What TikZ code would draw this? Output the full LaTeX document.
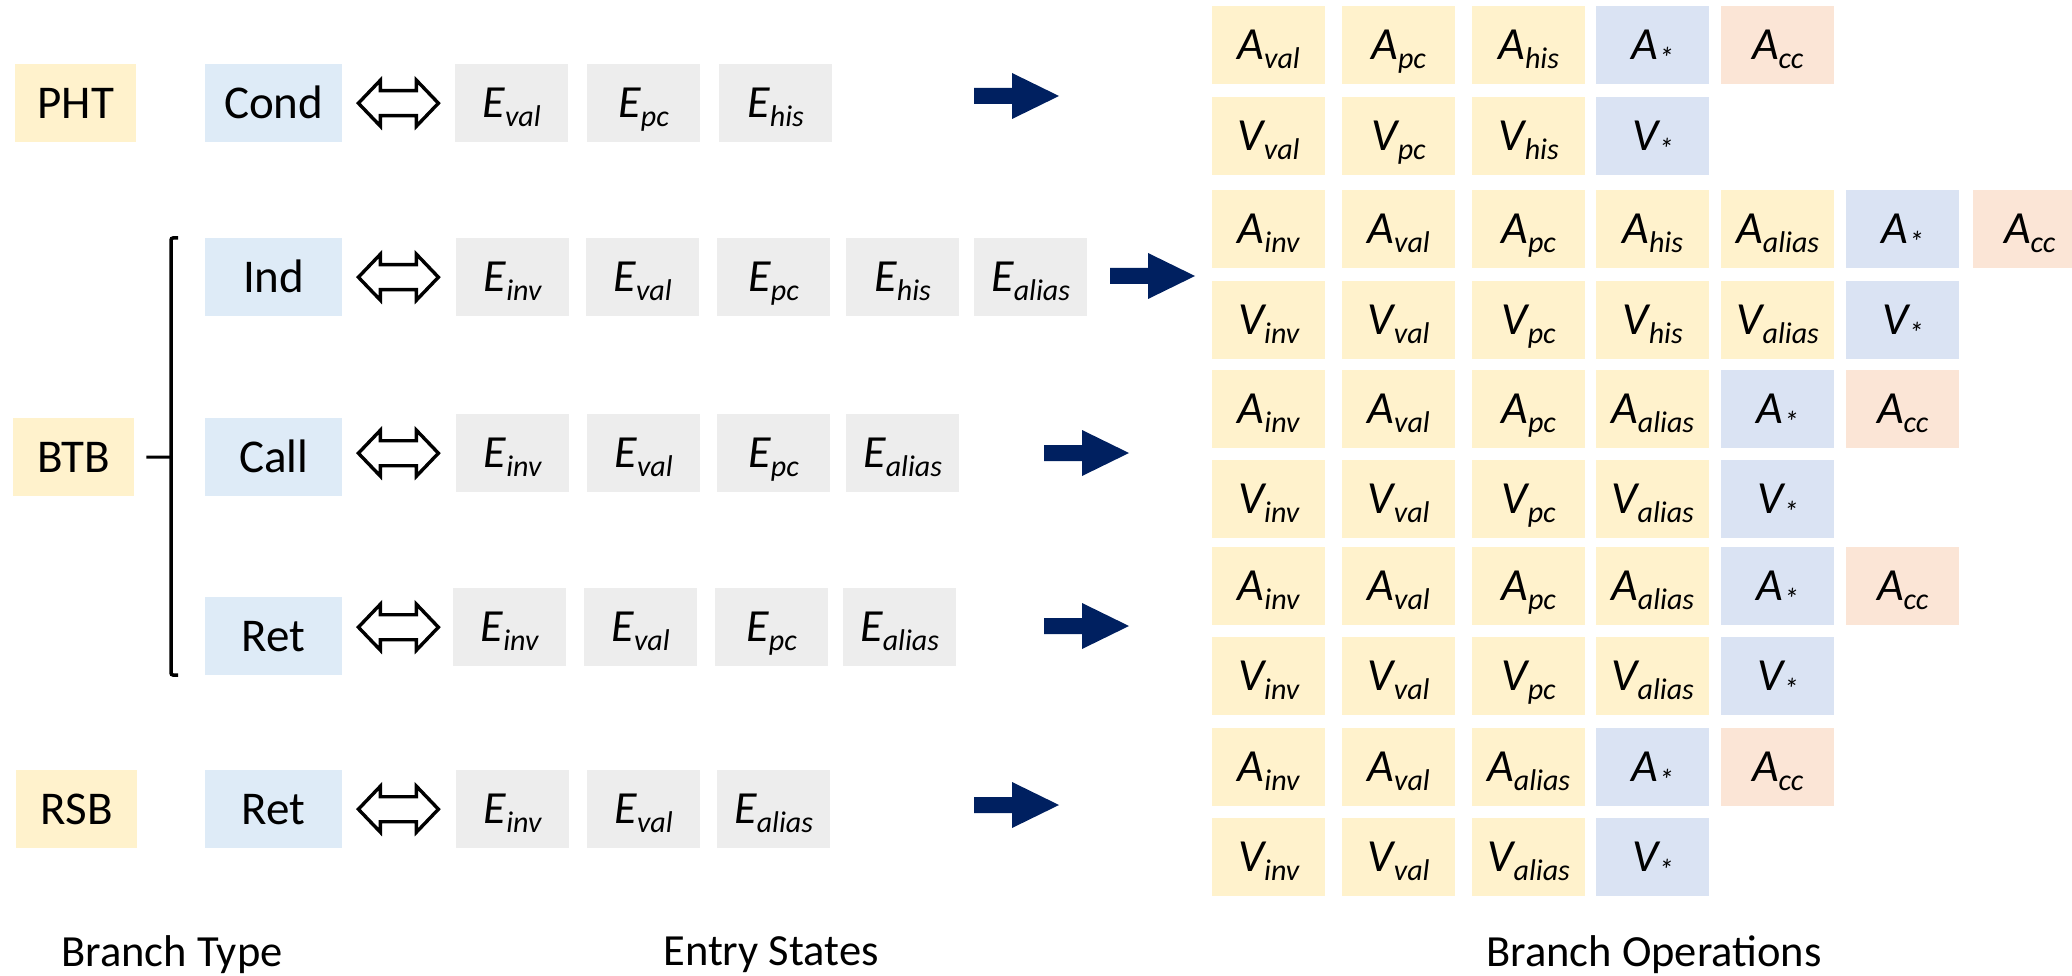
\documentclass[tikz,border=0pt]{standalone}
\usepackage{fontspec}
\setmainfont{Carlito}
\usetikzlibrary{calc}

\definecolor{cyel}{HTML}{FFF2CC}
\definecolor{cblueL}{HTML}{DEEBF7}
\definecolor{cblueG}{HTML}{DAE3F3}
\definecolor{cpink}{HTML}{FBE5D6}
\definecolor{cgrey}{HTML}{EDEDED}
\definecolor{cnavy}{HTML}{002060}

% italic symbol with a lowered italic index
\newcommand\sv[2]{{\fontsize{46}{50}\selectfont\itshape #1}\raisebox{-9pt}{\fontsize{30}{34}\selectfont\itshape #2}}

\tikzset{
  cell/.style={inner sep=0pt, anchor=north west, minimum height=78pt},
  unitbox/.style={cell, fill=cyel, minimum width=121pt, text height=30pt, text depth=0pt,
                  font=\fontsize{47}{52}\selectfont},
  typebox/.style={cell, fill=cblueL, minimum width=137pt, text height=30pt, text depth=0pt,
                  font=\fontsize{47}{52}\selectfont},
  ebox/.style={cell, fill=cgrey, minimum width=113pt, text height=29pt, text depth=0pt},
  opbox/.style={cell, minimum width=113pt, text height=29pt, text depth=0pt},
  dbl/.style={draw=black, fill=white, line width=3.4pt, line join=miter},
  bracket/.style={draw=black, line width=3.5pt},
  caption/.style={font=\fontsize{44.5}{50}\selectfont, inner sep=0pt},
}

% hollow two-headed arrow from the type box to the first entry box
\newcommand\linkarrow[2]{%
  \draw[dbl] ($(#1.east |- #2.west)+(16,0)$) -- ++(22,-23) -- ++(0,10.5) -- ++(36,0)
    -- ++(0,-10.5) -- ++(22,23) -- ++(-22,23) -- ++(0,-10.5) -- ++(-36,0)
    -- ++(0,10.5) -- cycle;}

% solid block arrow starting at a named coordinate
\newcommand\blockarrow[1]{%
  \fill[cnavy] (#1) ++(0,-8) -- ++(38,0) -- ++(0,-15) -- ++(47,23)
    -- ++(-47,23) -- ++(0,-15) -- ++(-38,0) -- cycle;}

% one row of operation cells: #1 row name, #2 top edge, #3 list letter/index/colour
\newcommand\oprow[3]{%
  \foreach \opL/\opS/\opF [count=\i] in {#3} {
    \pgfmathsetmacro\xx{{1212,1342,1472,1596,1721,1846,1973}[\i-1]}
    \node[opbox, fill=\opF] (op-#1-\i) at (\xx,#2) {\sv{\opL}{\opS}};
  }}

\begin{document}
\begin{tikzpicture}[x=1pt, y=-1pt]
\useasboundingbox (0,0) rectangle (2072,976);
\fill[white] (0,0) rectangle (2072,976);

% ---- branch units ----
\node[unitbox] (pht) at (15,64)  {PHT};
\node[unitbox] (btb) at (13,418) {BTB};
\node[unitbox] (rsb) at (16,770) {RSB};

% ---- branch types ----
\node[typebox] (cond)  at (205,64)  {Cond};
\node[typebox] (ind)   at (205,238) {Ind};
\node[typebox] (call)  at (205,418) {Call};
\node[typebox] (ret)   at (205,597) {Ret};
\node[typebox] (rsbret) at (205,770) {Ret};

% ---- BTB bracket ----
\coordinate (brk-top) at (171,238);
\coordinate (brk-mid) at (171,457);
\coordinate (brk-bot) at (171,675);
\draw[bracket, rounded corners=2pt] ($(brk-top)+(7,0)$) -- (brk-top) -- (brk-bot) -- ++(7,0);
\draw[bracket, line width=3pt] ($(btb.east)+(12,0)$) -- (brk-mid);

% ---- entry states ----
\foreach \xx/\ss [count=\i] in {455/val,587/pc,719/his}
  \node[ebox] (e-pht-\i) at (\xx,64) {\sv{E}{\ss}};
\foreach \xx/\ss [count=\i] in {456/inv,586/val,717/pc,846/his,974/alias}
  \node[ebox] (e-ind-\i) at (\xx,238) {\sv{E}{\ss}};
\foreach \xx/\ss [count=\i] in {456/inv,587/val,717/pc,846/alias}
  \node[ebox] (e-call-\i) at (\xx,414) {\sv{E}{\ss}};
\foreach \xx/\ss [count=\i] in {453/inv,584/val,715/pc,843/alias}
  \node[ebox] (e-ret-\i) at (\xx,588) {\sv{E}{\ss}};
\foreach \xx/\ss [count=\i] in {456/inv,587/val,717/alias}
  \node[ebox] (e-rsb-\i) at (\xx,770) {\sv{E}{\ss}};

% ---- type <-> state links ----
\linkarrow{cond}{e-pht-1}
\linkarrow{ind}{e-ind-1}
\linkarrow{call}{e-call-1}
\linkarrow{ret}{e-ret-1}
\linkarrow{rsbret}{e-rsb-1}

% ---- arrows towards the operations ----
\coordinate (go-pht)  at (974,96);
\coordinate (go-ind)  at (1110,276);
\coordinate (go-call) at (1044,453);
\coordinate (go-ret)  at (1044,626);
\coordinate (go-rsb)  at (974,805);
\blockarrow{go-pht}
\blockarrow{go-ind}
\blockarrow{go-call}
\blockarrow{go-ret}
\blockarrow{go-rsb}

% ---- branch operations ----
\oprow{1}{6}  {A/val/cyel, A/pc/cyel, A/his/cyel, A/*/cblueG, A/cc/cpink}
\oprow{2}{97} {V/val/cyel, V/pc/cyel, V/his/cyel, V/*/cblueG}
\oprow{3}{190}{A/inv/cyel, A/val/cyel, A/pc/cyel, A/his/cyel, A/alias/cyel, A/*/cblueG, A/cc/cpink}
\oprow{4}{281}{V/inv/cyel, V/val/cyel, V/pc/cyel, V/his/cyel, V/alias/cyel, V/*/cblueG}
\oprow{5}{370}{A/inv/cyel, A/val/cyel, A/pc/cyel, A/alias/cyel, A/*/cblueG, A/cc/cpink}
\oprow{6}{460}{V/inv/cyel, V/val/cyel, V/pc/cyel, V/alias/cyel, V/*/cblueG}
\oprow{7}{547}{A/inv/cyel, A/val/cyel, A/pc/cyel, A/alias/cyel, A/*/cblueG, A/cc/cpink}
\oprow{8}{637}{V/inv/cyel, V/val/cyel, V/pc/cyel, V/alias/cyel, V/*/cblueG}
\oprow{9}{728}{A/inv/cyel, A/val/cyel, A/alias/cyel, A/*/cblueG, A/cc/cpink}
\oprow{10}{818}{V/inv/cyel, V/val/cyel, V/alias/cyel, V/*/cblueG}

% ---- column captions ----
\node[caption] (cap-type)  at (172,955)  {Branch Type};
\node[caption] (cap-state) at (771,955)  {Entry States};
\node[caption] (cap-op)    at (1654,955) {Branch Operations};
\end{tikzpicture}
\end{document}
